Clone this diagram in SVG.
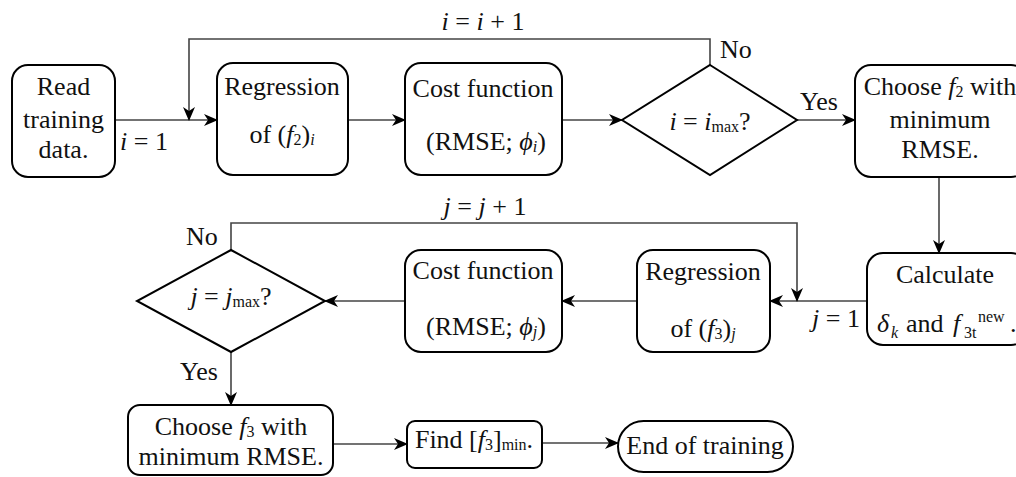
<svg xmlns="http://www.w3.org/2000/svg" width="1016" height="477" viewBox="0 0 1016 477" font-family="Liberation Serif, serif" font-size="26">
<defs>
<marker id="arr" markerUnits="userSpaceOnUse" markerWidth="14" markerHeight="12" viewBox="0 0 14 12" refX="13" refY="6" orient="auto">
<path d="M0,0 L14,6 L0,12 L4,6 Z" fill="#000"/>
</marker>
</defs>
<style>
text{fill:#111}
.c{text-anchor:middle}
.i{font-style:italic}
.s{font-size:16px}
.box{fill:#fff;stroke:#000;stroke-width:2}
.ln{fill:none;stroke:#444;stroke-width:1.6}
.ar{marker-end:url(#arr)}
</style>
<rect width="1016" height="477" fill="#fff"/>
<g id="connectors">
<line class="ln ar" x1="115" y1="120" x2="217" y2="120"/>
<polyline class="ln ar" points="710,65 710,39 189,39 189,120"/>
<line class="ln ar" x1="348" y1="120" x2="405" y2="120"/>
<line class="ln ar" x1="562" y1="120" x2="622" y2="120"/>
<line class="ln ar" x1="797" y1="120" x2="855" y2="120"/>
<line class="ln ar" x1="939" y1="177" x2="939" y2="253"/>
<line class="ln ar" x1="867" y1="301" x2="770" y2="301"/>
<polyline class="ln ar" points="231,250 231,223 797,223 797,301"/>
<line class="ln ar" x1="637" y1="301" x2="562" y2="301"/>
<line class="ln ar" x1="405" y1="301" x2="325" y2="301"/>
<line class="ln ar" x1="231" y1="352" x2="231" y2="405"/>
<line class="ln ar" x1="333" y1="444" x2="407" y2="444"/>
<line class="ln ar" x1="542" y1="443" x2="618" y2="443"/>
<text x="120" y="150"><tspan class="i">i</tspan> = 1</text>
<text class="c" x="483" y="30"><tspan class="i">i</tspan> = <tspan class="i">i</tspan> + 1</text>
<text x="720" y="58">No</text>
<text x="800" y="110">Yes</text>
<text x="812" y="327"><tspan class="i">j</tspan> = 1</text>
<text class="c" x="485" y="215"><tspan class="i">j</tspan> = <tspan class="i">j</tspan> + 1</text>
<text x="186" y="245">No</text>
<text x="180" y="380">Yes</text>
</g>
<g id="read">
<rect class="box" x="12" y="65" width="103" height="112" rx="16"/>
<text class="c" x="63.5" y="95">Read</text>
<text class="c" x="63.5" y="128">training</text>
<text class="c" x="63.5" y="158">data.</text>
</g>
<g id="regression-f2">
<rect class="box" x="217" y="63" width="131" height="112" rx="16"/>
<text class="c" x="282" y="95">Regression</text>
<text class="c" x="282" y="143">of (<tspan class="i">f</tspan><tspan class="s" dy="2">2</tspan><tspan dy="-2">)</tspan><tspan class="i s" dy="2">i</tspan></text>
</g>
<g id="cost-i">
<rect class="box" x="405" y="63" width="157" height="112" rx="16"/>
<text class="c" x="483" y="97">Cost function</text>
<text class="c" x="486" y="150">(RMSE; <tspan class="i">ϕ</tspan><tspan class="i s" dy="2">i</tspan><tspan dy="-2">)</tspan></text>
</g>
<g id="decision-i">
<polygon class="box" points="710,65 797,120 710,175 622,120"/>
<text class="c" x="710" y="130"><tspan class="i">i</tspan> = <tspan class="i">i</tspan><tspan class="s" dy="2">max</tspan><tspan dy="-2">?</tspan></text>
</g>
<g id="choose-f2">
<rect class="box" x="855" y="65" width="172" height="112" rx="16"/>
<text class="c" x="940" y="95">Choose <tspan class="i">f</tspan><tspan class="s" dy="2">2</tspan><tspan dy="-2"> with</tspan></text>
<text class="c" x="940" y="128">minimum</text>
<text class="c" x="940" y="158">RMSE.</text>
</g>
<g id="calculate">
<rect class="box" x="867" y="253" width="160" height="92" rx="16"/>
<text class="c" x="945" y="283">Calculate</text>
<text x="877" y="332" class="i">δ</text>
<text x="891" y="338" class="i s">k</text>
<text x="906" y="332">and</text>
<text x="953" y="332" class="i">f</text>
<text x="964" y="338" class="s">3t</text>
<text x="978" y="322" class="s">new</text>
<text x="1010" y="332">.</text>
</g>
<g id="regression-f3">
<rect class="box" x="637" y="250" width="133" height="102" rx="16"/>
<text class="c" x="703" y="280">Regression</text>
<text class="c" x="703" y="337">of (<tspan class="i">f</tspan><tspan class="s" dy="2">3</tspan><tspan dy="-2">)</tspan><tspan class="i s" dy="2">j</tspan></text>
</g>
<g id="cost-j">
<rect class="box" x="405" y="250" width="157" height="102" rx="16"/>
<text class="c" x="483" y="279">Cost function</text>
<text class="c" x="486" y="335">(RMSE; <tspan class="i">ϕ</tspan><tspan class="i s" dy="2">j</tspan><tspan dy="-2">)</tspan></text>
</g>
<g id="decision-j">
<polygon class="box" points="231,250 325,301 231,352 137,301"/>
<text class="c" x="231" y="305"><tspan class="i">j</tspan> = <tspan class="i">j</tspan><tspan class="s" dy="2">max</tspan><tspan dy="-2">?</tspan></text>
</g>
<g id="choose-f3">
<rect class="box" x="128" y="405" width="205" height="70" rx="12"/>
<text class="c" x="231" y="435">Choose <tspan class="i">f</tspan><tspan class="s" dy="2">3</tspan><tspan dy="-2"> with</tspan></text>
<text class="c" x="231" y="465">minimum RMSE.</text>
</g>
<g id="find">
<rect class="box" x="407" y="421" width="135" height="47" rx="8"/>
<text class="c" x="474" y="448">Find [<tspan class="i">f</tspan><tspan class="s" dy="2">3</tspan><tspan dy="-2">]</tspan><tspan class="s" dy="2">min</tspan><tspan dy="-2">.</tspan></text>
</g>
<g id="end">
<rect class="box" x="618" y="421" width="175" height="51" rx="25.5"/>
<text class="c" x="705" y="454">End of training</text>
</g>
</svg>
